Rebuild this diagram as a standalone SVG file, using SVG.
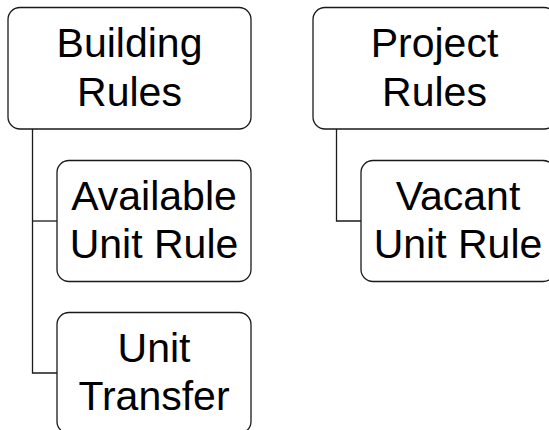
<svg xmlns="http://www.w3.org/2000/svg" width="549" height="430" viewBox="0 0 549 430">
  <style>
    .box { fill: #ffffff; stroke: #1a1a1a; stroke-width: 1.3; }
    .label { font-family: "Liberation Sans", Arial, sans-serif; font-size: 41px; fill: #000000; text-anchor: middle; }
    .link { fill: none; stroke: #1a1a1a; stroke-width: 1.3; }
  </style>
  <rect width="549" height="430" fill="#ffffff"/>

  <!-- tree connectors -->
  <g id="connectors">
    <path class="link" d="M32.5 129 V373 H57"/>
    <path class="link" d="M32.5 221 H57"/>
    <path class="link" d="M336.5 129 V221 H361"/>
  </g>

  <g id="building-rules">
    <rect class="box" x="8" y="7.5" width="243" height="121.5" rx="12"/>
    <text class="label" x="129.5" y="57">Building</text>
    <text class="label" x="129.5" y="106">Rules</text>
  </g>

  <g id="available-unit-rule">
    <rect class="box" x="57" y="160.5" width="194" height="121" rx="12"/>
    <text class="label" x="154" y="209.5">Available</text>
    <text class="label" x="154" y="257.5">Unit Rule</text>
  </g>

  <g id="unit-transfer">
    <rect class="box" x="57" y="312.5" width="194" height="121" rx="12"/>
    <text class="label" x="154" y="362">Unit</text>
    <text class="label" x="154" y="410">Transfer</text>
  </g>

  <g id="project-rules">
    <rect class="box" x="313" y="7.5" width="243" height="121.5" rx="12"/>
    <text class="label" x="434.5" y="57">Project</text>
    <text class="label" x="434.5" y="106">Rules</text>
  </g>

  <g id="vacant-unit-rule">
    <rect class="box" x="361" y="160.5" width="194" height="121" rx="12"/>
    <text class="label" x="458" y="209.5">Vacant</text>
    <text class="label" x="458" y="257.5">Unit Rule</text>
  </g>
</svg>
